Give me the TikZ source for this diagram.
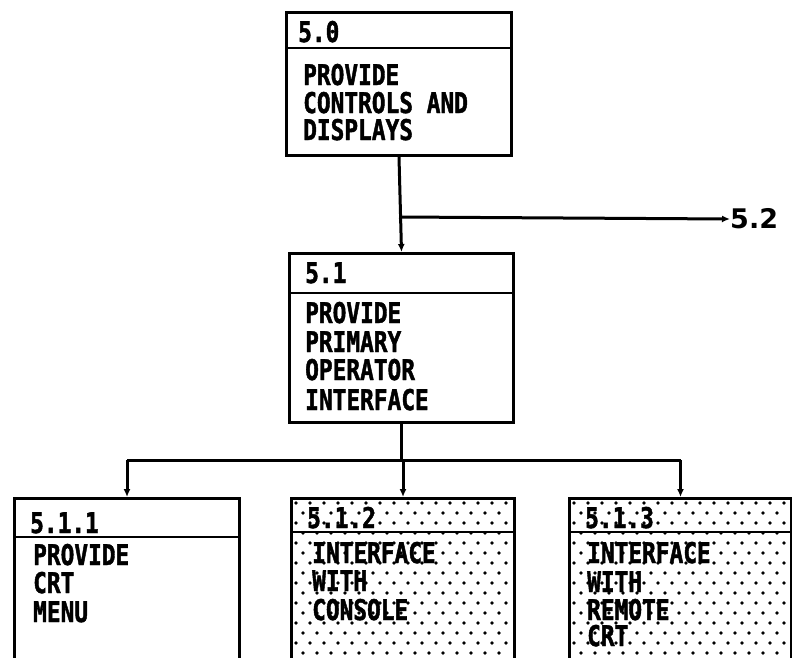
\documentclass[tikz,border=0pt]{standalone}
\usepackage{fontspec}
\newfontfamily\plotfont{DejaVu Sans Mono}[FakeStretch=0.8,FakeBold=1.5]
\newfontfamily\labfont{DejaVu Sans}
\usetikzlibrary{arrows.meta}
\tikzset{
  box/.style={draw, line width=3pt, rectangle, inner sep=0pt, anchor=north west},
  divider/.style={line width=2.6pt},
  txt/.style={inner sep=0pt, anchor=base west, font=\plotfont\bfseries\fontsize{28.5}{29}\selectfont},
  conn/.style={line width=3pt},
  arr/.style={line width=3pt, -{Latex[length=8pt,width=7pt]}},
}
\begin{document}
\begin{tikzpicture}[x=1pt,y=-1pt]
\useasboundingbox (0,0) rectangle (792,657);
% boxes
\node[box, minimum width=225, minimum height=143] (b50) at (285,11) {};
\node[box, minimum width=224, minimum height=169] (b51) at (288,252) {};
\node[box, minimum width=225, minimum height=170] (b511) at (13,497) {};
\node[box, minimum width=223, minimum height=170] (b512) at (290,497) {};
\node[box, minimum width=222, minimum height=170] (b513) at (568,497) {};
% dot fill
\begin{scope}
\clip (292,499) rectangle (511,660);
\foreach \r in {0,...,16}{\foreach \c in {0,...,16}{
  \fill ({296+\c*14+mod(\r,2)*7},{503+\r*10}) circle (1.9);}}
\end{scope}
\begin{scope}
\clip (570,499) rectangle (788,660);
\foreach \r in {0,...,16}{\foreach \c in {0,...,16}{
  \fill ({574+\c*14+mod(\r,2)*7},{503+\r*10}) circle (1.9);}}
\end{scope}
% dividers
\draw[divider] (285,48) -- (510,48);
\draw[divider] (288,293) -- (512,293);
\draw[divider] (13,537) -- (238,537);
\draw[divider] (290,532) -- (513,532);
\draw[divider] (568,532) -- (790,532);
% texts
\node[txt] (t50) at (298,42) {5.0};
\node[txt] (t50a) at (303,85) {PROVIDE};
\node[txt] (t50b) at (303,113) {CONTROLS AND};
\node[txt] (t50c) at (303,140) {DISPLAYS};
\node[txt] (t51) at (305,283) {5.1};
\node[txt] (t51a) at (305,323) {PROVIDE};
\node[txt] (t51b) at (305,352) {PRIMARY};
\node[txt] (t51c) at (305,380) {OPERATOR};
\node[txt] (t51d) at (305,410) {INTERFACE};
\node[txt] (t511) at (30,533) {5.1.1};
\node[txt] (t511a) at (33,565) {PROVIDE};
\node[txt] (t511b) at (33,593) {CRT};
\node[txt] (t511c) at (33,622) {MENU};
\node[txt] (t512) at (307,528) {5.1.2};
\node[txt] (t512a) at (312,563) {INTERFACE};
\node[txt] (t512b) at (312,591) {WITH};
\node[txt] (t512c) at (312,620) {CONSOLE};
\node[txt] (t513) at (585,528) {5.1.3};
\node[txt] (t513a) at (587,563) {INTERFACE};
\node[txt] (t513b) at (587,592) {WITH};
\node[txt] (t513c) at (587,620) {REMOTE};
\node[txt] (t513d) at (587,646) {CRT};
\node[inner sep=0pt, anchor=west, font=\labfont\bfseries\fontsize{27}{29}\selectfont] (l52) at (730,219) {5.2};
% connectors
\coordinate (j1) at (0,217);
\coordinate (hbar) at (0,460);
\draw[arr] (b50.south) -- (b51.north);
\draw[arr] (b50.south |- j1) -- (l52.west);
\draw[conn] (b51.south) -- (b51.south |- hbar);
\draw[conn] (b511.north |- hbar) -- (b513.north |- hbar);
\draw[arr] (b511.north |- hbar) -- (b511.north);
\draw[arr] (b512.north |- hbar) -- (b512.north);
\draw[arr] (b513.north |- hbar) -- (b513.north);
\end{tikzpicture}
\end{document}
